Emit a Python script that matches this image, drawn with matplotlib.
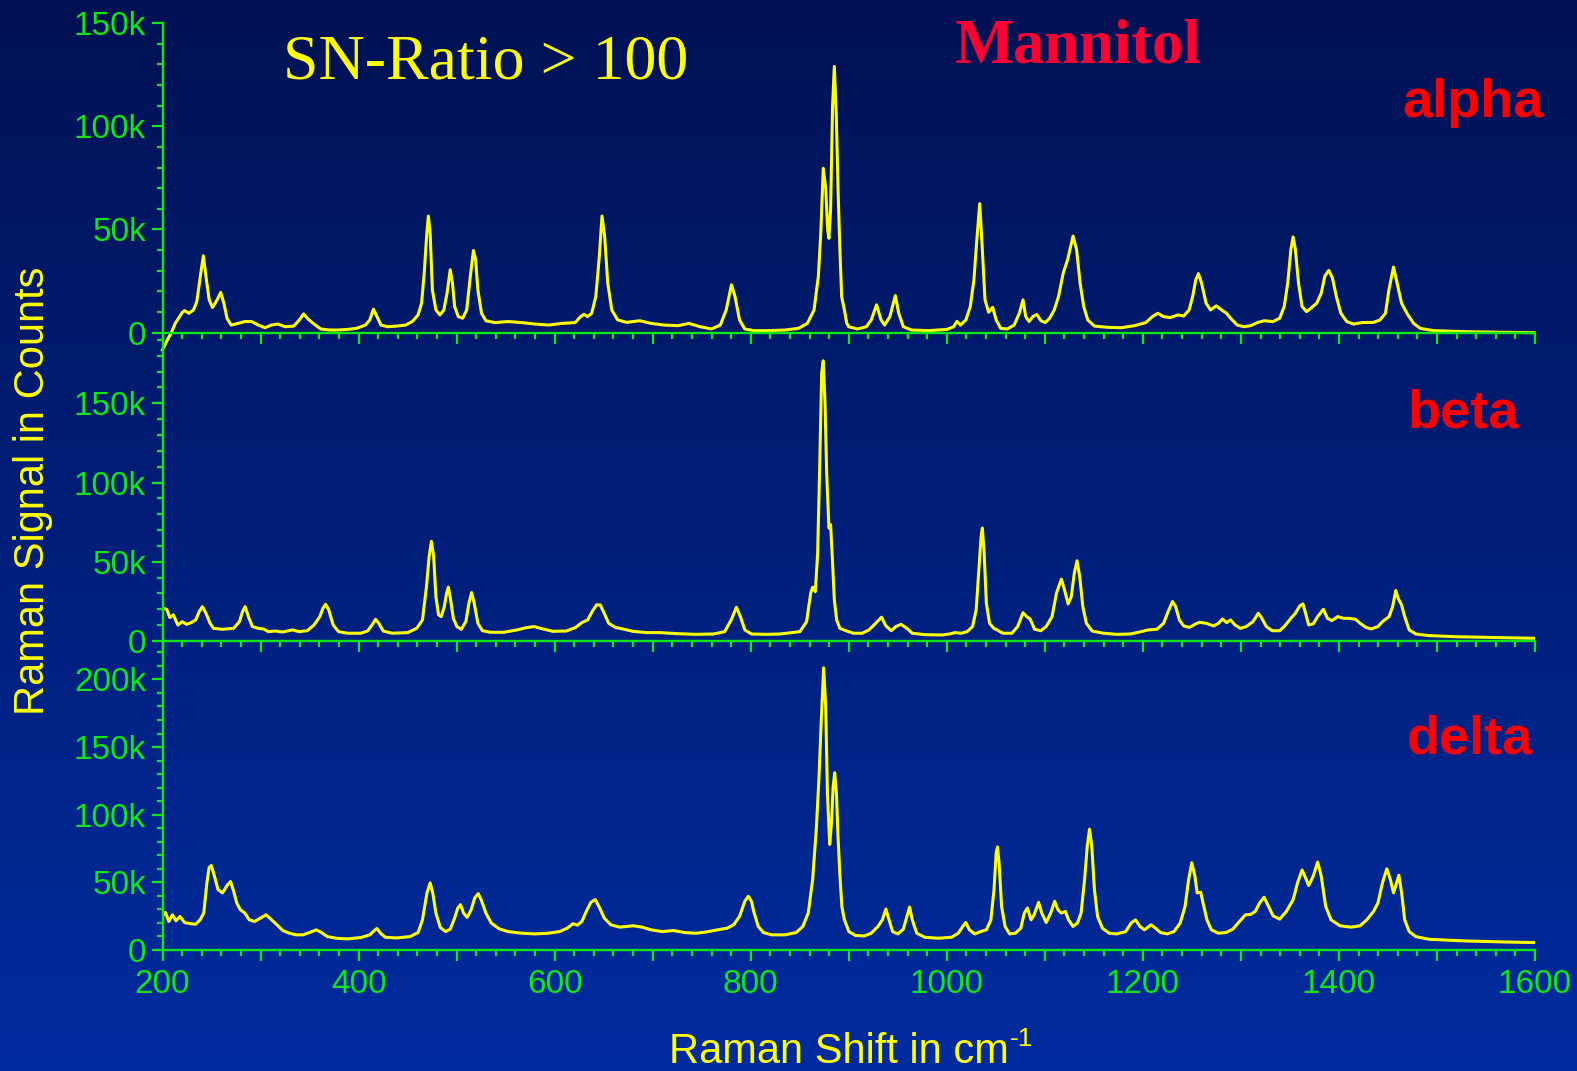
import numpy as np
import matplotlib
matplotlib.use("Agg")
import matplotlib.pyplot as plt
from matplotlib.ticker import MultipleLocator, FuncFormatter

# ---------------- data (x in cm^-1, y in thousands of counts) ----------------
alpha_x = [200, 204, 209, 213, 220, 222.5, 227, 231.6, 235, 238.5, 241.7, 244.4, 247.6, 251, 255.8, 259.4, 262.6, 265.8, 270, 277, 284, 291, 297.7, 304.5, 311, 318, 325, 334, 339.6, 344, 348.7, 354.6, 361.4, 370.5, 379.6, 388.8, 397.9, 407, 411.5, 415.2, 418.8, 422.9, 429.7, 438.8, 448, 454.8, 460.7, 464.3, 467, 469.4, 471.2, 473, 475.3, 478.9, 483, 487, 490.3, 493.5, 495.8, 498, 501.7, 506.2, 510.3, 514, 517.2, 519.4, 521.7, 525.4, 529.9, 539, 552.7, 566.3, 580, 593.7, 607.3, 621, 626.5, 630, 633.7, 637.8, 642, 645.6, 648.3, 651, 654.2, 658.3, 664.3, 673.4, 687, 698.4, 712, 725.8, 737, 748.5, 760, 769, 775, 780.4, 784, 788.6, 794, 803, 817, 835, 848.7, 857.8, 864.6, 869, 871.5, 874, 876.5, 878.5, 879.8, 881.5, 883.5, 885.3, 887.3, 889.3, 891, 892.8, 895.6, 897.9, 900, 909, 918, 923, 928.4, 933, 936.6, 942, 947.5, 951, 955.7, 964, 982, 1000.3, 1007, 1010.4, 1014, 1019.5, 1024, 1027.7, 1030.4, 1033.6, 1035.9, 1039, 1042.7, 1046.8, 1050.4, 1055, 1061.8, 1068.7, 1074, 1077.8, 1080.5, 1084, 1087.8, 1091.9, 1096, 1100.5, 1105, 1109.6, 1114, 1118.8, 1123.3, 1128.8, 1132.4, 1136, 1139.7, 1143.8, 1150.6, 1164.3, 1178, 1191.6, 1203, 1209.8, 1215.3, 1221.2, 1228, 1235.8, 1241.7, 1247.2, 1250.8, 1254, 1256.7, 1259.9, 1264.5, 1269, 1275, 1280.4, 1285.4, 1289.5, 1296.3, 1303.2, 1310, 1316.8, 1323.7, 1332.8, 1339.6, 1344.2, 1347.8, 1351, 1353.3, 1355.6, 1358.8, 1362.4, 1367, 1371.5, 1377.4, 1382, 1385.6, 1389.7, 1393.4, 1397.4, 1402, 1408, 1414.8, 1423.9, 1435.3, 1442, 1447.5, 1451, 1455.7, 1459.4, 1463.9, 1469.4, 1476.2, 1483, 1496.7, 1528.6, 1565, 1599]
alpha_k = [-8.4, -4.4, 0, 4.5, 9.7, 10.7, 9.4, 11, 15, 27, 37.3, 27, 16, 12.2, 16, 19.5, 14.3, 7, 3.7, 4.5, 5.4, 5.4, 3.7, 2.4, 3.7, 4.2, 2.9, 3.2, 6.2, 9.1, 6.5, 4.2, 1.8, 1.3, 1.3, 1.6, 2.1, 3.7, 6.2, 11.4, 7.8, 3.7, 2.9, 3.2, 3.7, 5.4, 8.6, 14.3, 28.9, 46.8, 56.5, 48.4, 20.8, 11, 8.6, 11, 19.2, 30.5, 24, 12.7, 7.8, 7, 11, 27.3, 39.8, 35.4, 20.8, 9.4, 5.8, 4.9, 5.4, 4.9, 4.2, 3.7, 4.5, 4.9, 7.8, 8.9, 7.8, 9.4, 17.5, 37, 56.5, 46.8, 24, 11, 6.2, 5, 5.8, 4.5, 3.7, 3.4, 4.5, 2.9, 1.8, 3.7, 11, 23.2, 17.5, 6.2, 1.8, 1, 1, 1.3, 2.1, 4.5, 11, 27.3, 48.4, 79.6, 70, 50, 45.7, 60, 110, 129, 105, 66, 40, 17.4, 11, 4.7, 2.9, 1.8, 2.9, 6.2, 13.5, 6.2, 3.7, 7.8, 18, 9.4, 2.9, 1.3, 1, 1.6, 2.9, 5.5, 3.7, 6.2, 12.7, 25.6, 43.5, 62.5, 43.5, 15.9, 9.9, 12.3, 6.2, 2.1, 1.8, 3.7, 9.4, 15.9, 7.8, 5.4, 7.8, 8.8, 5.8, 4.9, 7, 11, 17.5, 28.9, 35.4, 46.8, 40.3, 24, 12.7, 6.2, 3.2, 2.6, 2.4, 3.4, 4.9, 7.8, 9.4, 7.8, 7.3, 8.6, 8.1, 11, 17.5, 25.6, 28.6, 24, 14.3, 11, 13, 11, 9.4, 7, 3.7, 2.9, 3.4, 4.9, 5.8, 5.4, 7, 12.7, 24, 40.3, 46.4, 40.3, 24, 12.7, 10.2, 11.9, 14.3, 19.2, 27.3, 30.2, 26.5, 17.5, 9.4, 5.4, 4.2, 4.9, 5, 6.2, 9.4, 20.8, 31.8, 24, 14.3, 9.4, 4.5, 2.1, 1, 0.5, 0.2, 0]

beta_x = [199.7, 204.3, 207.5, 211, 215.7, 220, 224.8, 229.3, 233.9, 237.5, 240.7, 244.4, 248.5, 252, 261, 272.6, 278.5, 281.7, 284.4, 287.6, 291.7, 297.6, 303, 308, 315, 322.7, 332.7, 339.5, 347.7, 354.6, 360.5, 363.7, 366.4, 369.6, 374.1, 379.6, 388.7, 402.4, 409.2, 413.8, 417.4, 420.6, 425.2, 434.3, 450.2, 459.3, 465.2, 469.3, 472, 474.3, 476.6, 478.9, 481.6, 484.3, 487.5, 489.8, 491.6, 493.9, 496.7, 500.3, 504.8, 509.4, 512.6, 515.3, 518, 521.7, 526.3, 534.5, 548.1, 561.8, 570.9, 579, 586.8, 598.2, 611.9, 621, 627.8, 633.7, 638.3, 642.8, 646.5, 650.6, 655.1, 662, 671, 680, 693.8, 707.5, 725.7, 744, 762, 773.5, 780.4, 785.4, 789.5, 794, 800.9, 816.8, 829.8, 850.2, 857, 861.2, 863.2, 865.9, 868.3, 870.6, 872.4, 874, 875.8, 877.5, 879.8, 881.5, 883.2, 885.3, 887.7, 891, 897.9, 904.7, 913.8, 920.7, 927.5, 933.4, 938, 943.4, 948, 953.4, 959.4, 964.8, 977.6, 995.8, 1002.6, 1008.5, 1014.9, 1020.8, 1026.3, 1030, 1032.7, 1035, 1036.3, 1038.1, 1040.4, 1043.6, 1048, 1051.3, 1057.3, 1066.4, 1072.3, 1077.8, 1081.4, 1085, 1089.6, 1096, 1101.4, 1107.4, 1111.9, 1116.9, 1120.1, 1123.8, 1127, 1130.1, 1132.9, 1135.6, 1138.8, 1142.4, 1148.3, 1159.7, 1173.4, 1187, 1198.4, 1205.3, 1214.4, 1221.2, 1225.8, 1230.3, 1233.5, 1237.2, 1241.7, 1247.6, 1254, 1258.1, 1264.5, 1272.2, 1277.2, 1281.3, 1285.4, 1289.5, 1294, 1299.5, 1305.5, 1312.3, 1317.8, 1321.4, 1326, 1331.9, 1339.6, 1344.2, 1351, 1355.6, 1360.1, 1363.3, 1366, 1369.2, 1373.8, 1378.3, 1384.2, 1388.3, 1392.9, 1398.8, 1404.7, 1410.2, 1417, 1421.6, 1427.5, 1433, 1439.8, 1444.4, 1451.2, 1454.8, 1458, 1460.3, 1463.9, 1467.1, 1471.7, 1478.5, 1492.2, 1519.5, 1551.4, 1599]
beta_k = [20.7, 20, 14.8, 16.5, 10.1, 12.2, 10.5, 11.6, 13.3, 18.6, 21.7, 17.5, 11.2, 8, 7.4, 8, 12.2, 18.6, 21.7, 15.4, 9.1, 8, 7.6, 5.9, 6.3, 5.7, 7, 5.9, 6.5, 10.1, 15.4, 20.7, 23.2, 19.6, 10.1, 5.9, 4.9, 4.9, 6.3, 10.1, 13.7, 11.2, 6.3, 4.9, 5.3, 8, 13.3, 34.4, 53.4, 62.9, 53.4, 28, 16.5, 15.4, 21.7, 30.2, 34, 26, 14.3, 9.1, 7.4, 12.2, 23.8, 30.6, 23.8, 11.2, 6.5, 5.5, 5.5, 7, 8.4, 9.1, 7.8, 6.1, 6.3, 8.4, 11.6, 13.3, 18.6, 22.8, 22.8, 17.5, 11.2, 8.6, 7.4, 6.1, 5.3, 5.3, 4.6, 4.2, 4.4, 5.9, 13.7, 21.3, 15.4, 7, 4.4, 4.2, 4.4, 5.9, 12.2, 30.2, 34, 31.2, 55.5, 116.6, 169.4, 176.8, 150, 106, 71.3, 73.4, 53.4, 26, 13.3, 8, 6.3, 4.9, 4.9, 7, 11.2, 15, 9.5, 6.5, 9.1, 10.5, 8, 4.9, 4, 3.8, 4.4, 5.3, 4.9, 5.9, 9.1, 19.6, 44.9, 66, 71.3, 55.5, 23.8, 11.2, 8, 7, 4.9, 4.9, 9.1, 17.9, 15.4, 13.9, 7.4, 6.5, 9.1, 15.4, 30.2, 39, 32.3, 23.4, 28, 42.8, 50.6, 40.7, 21.7, 11.2, 6.3, 4.9, 4.2, 4.4, 5.9, 7, 7.4, 11.2, 18.6, 24.9, 21.7, 13.3, 9.5, 8.6, 10.8, 11.8, 11.2, 9.5, 11.2, 13.9, 11.6, 13.3, 10.1, 8, 9.1, 12.2, 17.5, 14.3, 9.1, 6.5, 6.5, 9.1, 14.3, 17.5, 22.2, 23.4, 17.5, 10.1, 10.8, 15.4, 20, 14.3, 12.9, 15.4, 14.3, 14.3, 13.7, 11.2, 8.6, 7.6, 9.1, 12.2, 15.4, 21.7, 31.9, 27, 22.8, 15.4, 7, 4.4, 3.4, 2.7, 2.3, 1.7]

delta_x = [199.7, 202.9, 206.5, 210.2, 213.8, 217.9, 222.5, 229.3, 233.9, 238.4, 242.1, 245.3, 247.5, 249.8, 253, 256.6, 261.2, 265.8, 269.4, 272.6, 275.8, 279.4, 284, 288.5, 294, 299.9, 305.8, 311.3, 316.8, 322.7, 329.5, 336.4, 343.2, 350, 356.8, 362.3, 368.2, 377.3, 388.7, 402.4, 411.5, 416, 418.8, 422.4, 427.4, 438.8, 452.5, 460.7, 465.2, 469.8, 473, 475.7, 478.9, 483.4, 488.9, 493.5, 498, 501.2, 504, 507.1, 510.8, 514.9, 518.5, 522.1, 525.3, 529.9, 535.4, 543.6, 552.7, 566.3, 580, 593.7, 605, 612.8, 618.7, 623.2, 627.8, 632.3, 636.9, 641.5, 646, 650.6, 657.4, 666.5, 680.2, 689.3, 698.4, 709.8, 721.2, 732.6, 744, 755.3, 766.3, 775.8, 782.6, 788.6, 794, 797.6, 800.8, 803.1, 807.7, 813.1, 821.4, 835, 846.4, 853.2, 858.7, 863.2, 866.9, 869.6, 872, 874.4, 876.5, 878.3, 880.6, 882.5, 884, 885.7, 887.5, 889, 891, 893, 895.6, 900.2, 907, 916.1, 922.9, 929.8, 934.3, 937.9, 941.1, 944.8, 950.2, 955.7, 959.4, 962.1, 964.8, 969.4, 977.6, 991.2, 1004.9, 1011.7, 1016.3, 1019.5, 1023.1, 1028.6, 1034.5, 1040.4, 1045, 1048.2, 1050.4, 1051.8, 1053.6, 1055.9, 1059.5, 1064.1, 1070, 1075.5, 1079.1, 1082.3, 1086, 1089.1, 1093.7, 1096.9, 1101.4, 1106, 1110.1, 1113.3, 1116.9, 1121, 1124.2, 1128.8, 1133.3, 1137, 1140.6, 1143.3, 1145.6, 1147.9, 1150.6, 1153.8, 1158.8, 1165.7, 1173.4, 1182.5, 1188, 1192.5, 1197.1, 1201.6, 1208.5, 1213, 1218, 1224.9, 1231.7, 1238.1, 1243.1, 1246.7, 1249.9, 1253.1, 1255.4, 1259, 1262.2, 1265.4, 1269.9, 1277.2, 1284.9, 1291.8, 1298.6, 1304.6, 1310, 1314.6, 1319.1, 1323.7, 1328.2, 1332.8, 1339.6, 1346.4, 1353.3, 1357.8, 1362.4, 1366, 1369.2, 1373.8, 1378.3, 1382, 1386.5, 1392, 1401.1, 1412.5, 1421.6, 1428.4, 1435.3, 1439.8, 1444.4, 1448.9, 1452.5, 1455.7, 1458.9, 1461.2, 1464, 1467.1, 1471.7, 1478.5, 1492.2, 1528.6, 1565, 1599]
delta_k = [24.8, 27.8, 21.1, 26, 21.6, 24.8, 20.3, 19.4, 19.1, 22.3, 27.3, 49.6, 60.8, 62.5, 54.6, 44.7, 42.2, 47.6, 50.6, 43.4, 34.7, 29.8, 27.3, 22.3, 21.1, 23.6, 26, 22.3, 18.6, 14.4, 12.4, 11.2, 11.2, 12.9, 14.9, 12.9, 9.9, 8.7, 8.2, 9.2, 11.2, 14.4, 15.9, 12.4, 9.4, 8.9, 9.9, 12.9, 22.3, 42.2, 49.6, 42.2, 27.3, 16.6, 13.6, 15.4, 23.6, 31, 33.5, 27.3, 24.1, 29.8, 38.5, 41.7, 36.7, 27.3, 19.9, 15.6, 13.6, 12.4, 11.9, 12.4, 13.6, 16.1, 19.4, 18.4, 21.1, 28.5, 35.2, 37.2, 31, 23.6, 18.6, 16.9, 17.9, 16.9, 14.9, 13.6, 14.4, 12.9, 12.4, 13.4, 14.9, 16.1, 18.6, 24.8, 36, 39.7, 36, 28.5, 17.4, 12.9, 11.2, 11.2, 12.9, 17.4, 27.3, 52.1, 89.3, 126.6, 170, 208.6, 180, 115, 78, 95, 120, 131, 115, 85, 55, 32, 22.3, 13.6, 10.7, 10.4, 12.4, 17.4, 22.3, 30.3, 22.3, 13.6, 11.9, 15.4, 24.8, 31.8, 22.3, 12.4, 9.4, 8.7, 9.4, 12.4, 17.4, 20.3, 14.9, 11.9, 13.6, 14.9, 22.3, 44.7, 72, 76.2, 62, 32.3, 17.4, 11.9, 12.4, 16.1, 27.3, 31, 22.3, 26, 35.2, 27.3, 20.3, 27.3, 36, 29.8, 27.3, 28.5, 22.3, 17.4, 19.9, 27.3, 52.1, 76.9, 89.3, 76.9, 44.7, 24.8, 16.1, 12.4, 11.9, 13.6, 19.9, 22.3, 17.4, 14.9, 18.6, 16.1, 12.9, 11.9, 13.6, 19.9, 32.3, 52.1, 64.5, 54.6, 42.2, 42.7, 32.3, 22.3, 14.9, 12.4, 12.9, 15.4, 21.1, 26, 26.3, 28.5, 34.7, 39, 32.3, 25.3, 22.8, 28.5, 37.2, 49.6, 59.1, 53.3, 47.6, 54.6, 65, 54.6, 32.3, 22.3, 17.9, 16.9, 17.9, 22.3, 28.5, 34.7, 49.6, 60, 52.1, 42.2, 49.6, 55.3, 42.2, 22.3, 13.6, 9.9, 7.9, 6.7, 6, 5.5]

panel_names = ["alpha", "beta", "delta"]
x_tick_labels = ["200", "400", "600", "800", "1000", "1200", "1400", "1600"]

# ---------------- style ----------------
W, H = 1577, 1071
GREEN = "#12e612"
YELLOW = "#ffff00"
RED = "#ff0000"
SANS = ["Liberation Sans", "DejaVu Sans"]
SERIF = ["Liberation Serif", "DejaVu Serif"]

fig = plt.figure(figsize=(W / 100, H / 100), dpi=100)

# gradient background
bg = fig.add_axes([0, 0, 1, 1], zorder=-10)
top_c = np.array([0.0, 0.070, 0.330])
bot_c = np.array([0.0, 0.170, 0.625])
t = np.linspace(0, 1, 256)[:, None]
grad = (top_c[None, :] * (1 - t) + bot_c[None, :] * t)[:, None, :]
bg.imshow(grad, aspect="auto", extent=[0, 1, 0, 1], origin="upper")
bg.set_axis_off()

def fy(py):
    return 1 - py / H

x_left = 162.5 / W
x_w = (1535 - 162.5) / W
panels = [
    (alpha_x, alpha_k, 332.7, 23.0, 150.0),
    (beta_x, beta_k, 641.0, 332.7, (641.0 - 332.7) / 1.5847),
    (delta_x, delta_k, 950.0, 641.0, (950.0 - 641.0) / 1.353),
]

def yfmt(v, pos):
    if abs(v) < 1:
        return "0"
    return f"{int(round(v / 1000))}k"

def xfmt(v, pos):
    s = str(int(round(v)))
    return s if s in x_tick_labels else ""

axes = []
for i, (xs, ks, pb, pt, ytop) in enumerate(panels):
    ax = fig.add_axes([x_left, fy(pb), x_w, (pb - pt) / H])
    ax.patch.set_alpha(0)
    ax.plot(xs, np.array(ks) * 1000, color=YELLOW, lw=2.2, clip_on=(i != 0),
            zorder=3, solid_joinstyle="round")
    ax.set_xlim(200, 1600)
    ax.set_ylim(0, ytop * 1000)
    for s in ["top", "right"]:
        ax.spines[s].set_visible(False)
    for s in ["left", "bottom"]:
        ax.spines[s].set_color(GREEN)
        ax.spines[s].set_linewidth(1.7)
        ax.spines[s].set_zorder(4)
    ax.xaxis.set_major_locator(MultipleLocator(100))
    ax.xaxis.set_minor_locator(MultipleLocator(20))
    ax.yaxis.set_major_locator(MultipleLocator(50000))
    ax.yaxis.set_minor_locator(MultipleLocator(10000))
    ax.yaxis.set_major_formatter(FuncFormatter(yfmt))
    ax.xaxis.set_major_formatter(FuncFormatter(xfmt))
    ax.tick_params(which="major", direction="out", length=7.8, width=1.6,
                   color=GREEN, labelcolor=GREEN, labelsize=24, pad=4)
    ax.tick_params(which="minor", direction="out", length=4.0, width=1.6, color=GREEN)
    ax.tick_params(axis="x", labelbottom=(i == 2), pad=6)
    for lab in ax.get_xticklabels() + ax.get_yticklabels():
        lab.set_family(SANS)
    axes.append(ax)

# texts
fig.text(282.6 / W, fy(78.5), "SN-Ratio > 100", color=YELLOW, fontsize=46,
         family=SERIF, ha="left", va="baseline")
fig.text(955 / W, fy(62.5), "Mannitol", color="#ff0033", fontsize=45,
         family=SERIF, fontweight="bold", ha="left", va="baseline")
fig.text(1544 / W, fy(116.5), panel_names[0], color=RED, fontsize=39,
         family=SANS, fontweight="bold", ha="right", va="baseline")
fig.text(1519 / W, fy(427.5), panel_names[1], color=RED, fontsize=39,
         family=SANS, fontweight="bold", ha="right", va="baseline")
fig.text(1533 / W, fy(753.3), panel_names[2], color=RED, fontsize=39,
         family=SANS, fontweight="bold", ha="right", va="baseline")

fig.text(669 / W, fy(1063), "Raman Shift in cm", color=YELLOW, fontsize=30,
         family=SANS, ha="left", va="baseline")
fig.text(1010 / W, fy(1046), "-1", color=YELLOW, fontsize=19,
         family=SANS, ha="left", va="baseline")
fig.text(33 / W, fy(491), "Raman Signal in Counts", color=YELLOW, fontsize=30,
         family=SANS, ha="center", va="center", rotation=90)

fig.savefig("out.png", dpi=100)
